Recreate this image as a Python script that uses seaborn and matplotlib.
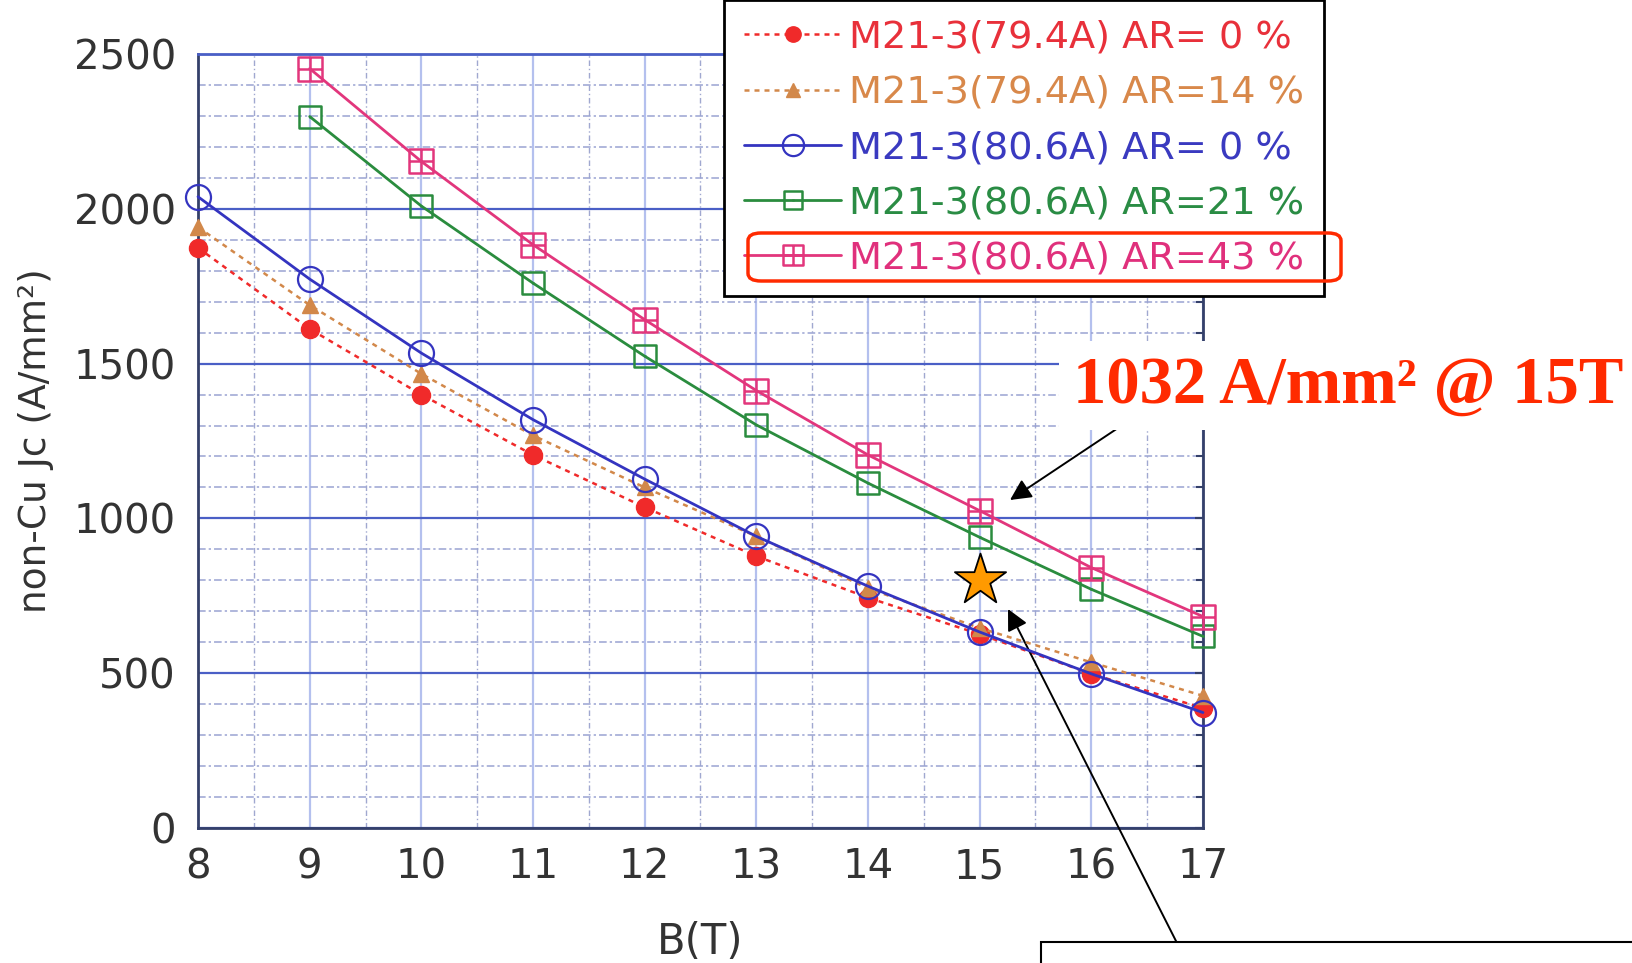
import numpy as np
import pandas as pd
import matplotlib
matplotlib.use("Agg")
import matplotlib.pyplot as plt
import seaborn as sns
from matplotlib.path import Path
from matplotlib.lines import Line2D
from matplotlib.patches import FancyBboxPatch, Rectangle

# ---------------- data ----------------
B = [8, 9, 10, 11, 12, 13, 14, 15, 16, 17]
B_hi = [9, 10, 11, 12, 13, 14, 15, 16, 17]
jc_794_ar0 = [1874, 1612, 1400, 1205, 1036, 878, 744, 626, 498, 387]
jc_794_ar14 = [1941, 1689, 1467, 1268, 1100, 942, 774, 646, 535, 427]
jc_806_ar0 = [2039, 1773, 1534, 1319, 1127, 942, 781, 633, 498, 373]
jc_806_ar21 = [2298, 2009, 1760, 1524, 1302, 1114, 939, 771, 619]
jc_806_ar43 = [2453, 2153, 1884, 1642, 1413, 1205, 1025, 841, 683]
labels = ["M21-3(79.4A) AR= 0 %", "M21-3(79.4A) AR=14 %", "M21-3(80.6A) AR= 0 %",
          "M21-3(80.6A) AR=21 %", "M21-3(80.6A) AR=43 %"]
star_B = [15]
star_jc = [800]
annot_text = "1032 A/mm² @ 15T"
x_ticks = [8, 9, 10, 11, 12, 13, 14, 15, 16, 17]
y_ticks = [0, 500, 1000, 1500, 2000, 2500]

# ---------------- style ----------------
sns.set_style("white")
plt.rcParams['font.family'] = ['DejaVu Sans']

W, H = 1633, 963
fig = plt.figure(figsize=(W / 100, H / 100), dpi=100)
ax = fig.add_axes([198 / W, 1 - 828 / H, (1203 - 198) / W, (828 - 54) / H])

# custom markers
sq_plus = Path([(-1, -1), (1, -1), (1, 1), (-1, 1), (-1, -1), (0, -1), (0, 1), (-1, 0), (1, 0)],
               [Path.MOVETO, Path.LINETO, Path.LINETO, Path.LINETO, Path.CLOSEPOLY,
                Path.MOVETO, Path.LINETO, Path.MOVETO, Path.LINETO])
sq_dot = Path([(-1, -1), (1, -1), (1, 1), (-1, 1), (-1, -1), (0, -0.1), (0, 0.1)],
              [Path.MOVETO, Path.LINETO, Path.LINETO, Path.LINETO, Path.CLOSEPOLY,
               Path.MOVETO, Path.LINETO])

c_red, c_org, c_blu, c_grn, c_pnk = "#f02a2a", "#d2884a", "#3434c0", "#2a8c3e", "#e2367c"
txt_cols = ["#e8303a", "#d8884a", "#3a3ac0", "#2a8c44", "#e0307c"]

series = [
    dict(x=B, y=jc_794_ar0, color=c_red, ls=(0, (2, 2)), marker='o', ms=13, mfc=c_red, mec=c_red, mew=1, lw=1.8),
    dict(x=B, y=jc_794_ar14, color=c_org, ls=(0, (2, 2)), marker='^', ms=12, mfc=c_org, mec=c_org, mew=1, lw=1.8),
    dict(x=B, y=jc_806_ar0, color=c_blu, ls='-', marker='o', ms=18, mfc='none', mec=c_blu, mew=1.6, lw=2.0),
    dict(x=B_hi, y=jc_806_ar21, color=c_grn, ls='-', marker=sq_dot, ms=16, mfc='none', mec=c_grn, mew=1.8, lw=2.0),
    dict(x=B_hi, y=jc_806_ar43, color=c_pnk, ls='-', marker=sq_plus, ms=17, mfc='none', mec=c_pnk, mew=1.8, lw=2.0),
]
order_z = [3, 4, 6, 5, 5]
for s, lab, z in zip(series, labels, order_z):
    sns.lineplot(x=s['x'], y=s['y'], ax=ax, color=s['color'], linestyle=s['ls'], marker=s['marker'],
                 markersize=s['ms'], markerfacecolor=s['mfc'], markeredgecolor=s['mec'],
                 markeredgewidth=s['mew'], linewidth=s['lw'], clip_on=False, zorder=z,
                 legend=False, label=lab)

sns.scatterplot(x=star_B, y=star_jc, ax=ax, marker='*', s=1500, color='#ff9a00',
                edgecolor='black', linewidth=1.3, zorder=8, clip_on=False, legend=False)

ax.set_xlim(8, 17)
ax.set_ylim(0, 2500)
ax.set_xticks(x_ticks)
ax.set_yticks(y_ticks)
ax.set_xticks(np.arange(8.5, 17, 1.0), minor=True)
ax.set_yticks(np.arange(0, 2501, 100), minor=True)

ax.grid(False)
ax.grid(which='major', axis='y', color='#4a5fc6', lw=1.6, ls='-', zorder=1)
ax.grid(which='minor', axis='y', color='#9aa3d2', lw=1.1, ls=(0, (5, 2, 1.5, 2)), zorder=1)
ax.grid(which='major', axis='x', color='#b4c0ee', lw=1.6, ls='-', zorder=1)
ax.grid(which='minor', axis='x', color='#a0a8d0', lw=1.0, ls=(0, (4, 2, 1, 2)), zorder=1)
ax.set_axisbelow(True)

for side in ['left', 'bottom', 'right']:
    ax.spines[side].set_color('#34406a')
    ax.spines[side].set_linewidth(2)
ax.spines['top'].set_color('#4a5fc6')
ax.spines['top'].set_linewidth(2)

ax.tick_params(axis='both', which='major', direction='in', length=6, width=1.5, color='#34406a',
               labelsize=29, labelcolor='#333333')
ax.tick_params(axis='y', which='major', pad=16, right=True)
ax.tick_params(axis='x', which='major', pad=14)
ax.tick_params(axis='y', which='minor', direction='in', length=5, width=1.5, color='#34406a', right=True)
ax.tick_params(axis='x', which='minor', length=0)

ax.set_xlabel("B(T)", fontsize=30, color='#333333', labelpad=24)
ax.set_ylabel("non-Cu Jc (A/mm²)", fontsize=27, color='#333333',
              family=['Liberation Sans Narrow', 'DejaVu Sans'], labelpad=14)

# legend
handles = []
for s in series:
    handles.append(Line2D([], [], color=s['color'], linestyle=s['ls'], marker=s['marker'],
                          markersize=s['ms'] * 0.85, markerfacecolor=s['mfc'], markeredgecolor=s['mec'],
                          markeredgewidth=s['mew'], linewidth=s['lw']))
leg = ax.legend(handles, labels, loc='upper left', bbox_to_anchor=(724 / W, 1.0),
                bbox_transform=fig.transFigure, fontsize=27.5, frameon=True, fancybox=False,
                framealpha=1, edgecolor='black', handlelength=2.55, handletextpad=0.2,
                labelspacing=0.5, borderpad=0.52, borderaxespad=0)
leg.get_frame().set_linewidth(2)
for t, c in zip(leg.get_texts(), txt_cols):
    t.set_color(c)
leg.set_zorder(10)

# red rounded highlight box
fig.patches.append(FancyBboxPatch((748 / W, 1 - 281 / H), (1341 - 748) / W, (281 - 233) / H,
                                  boxstyle="round,pad=0,rounding_size=0.008", transform=fig.transFigure,
                                  fill=False, edgecolor='#ff2a00', linewidth=2.5, zorder=20))

# annotation text
fig.text(1073 / W, 1 - 386 / H, annot_text, ha='left', va='center', fontsize=48,
         fontweight='bold', color='#ff2a00', family=['Liberation Serif', 'DejaVu Serif'],
         bbox=dict(facecolor='white', edgecolor='none', pad=10), zorder=15)

# arrows
ap = dict(arrowstyle='-|>', color='black', lw=1.4, mutation_scale=32, shrinkA=0, shrinkB=0)
ax.annotate('', xy=(1010, H - 500), xycoords='figure pixels', xytext=(1151, H - 406),
            textcoords='figure pixels', arrowprops=ap, annotation_clip=False)
ax.annotate('', xy=(1008, H - 609), xycoords='figure pixels', xytext=(1177, H - 943),
            textcoords='figure pixels', arrowprops=ap, annotation_clip=False)

# bottom box (cut off)
fig.patches.append(Rectangle((1041 / W, -0.05), 1.0, 0.05 + (H - 942) / H, transform=fig.transFigure,
                             fill=True, facecolor='white', edgecolor='black', linewidth=1.5, zorder=20))

fig.savefig("out.png", dpi=100)
